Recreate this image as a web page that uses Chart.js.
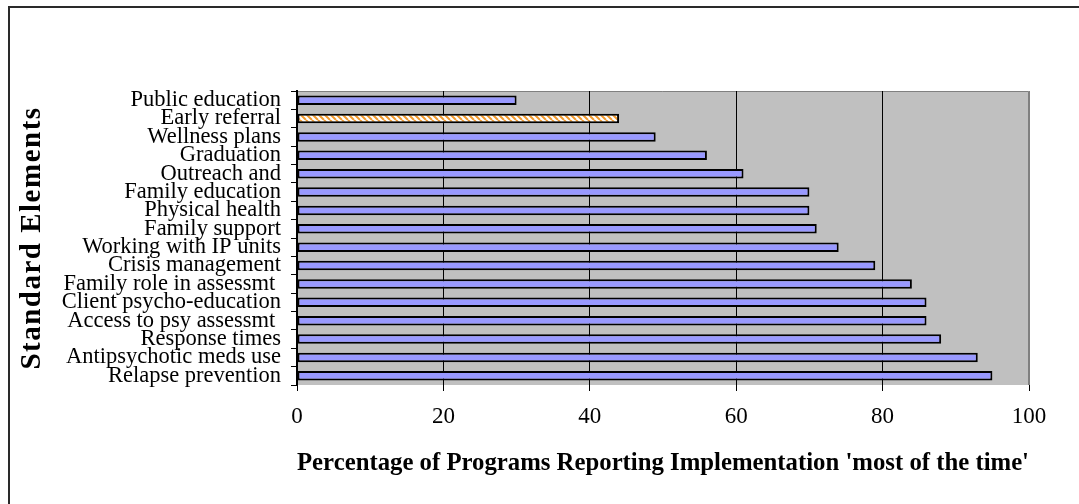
<!DOCTYPE html>
<html>
<head>
<meta charset="utf-8">
<script src="https://cdn.jsdelivr.net/npm/chart.js@4.4.1/dist/chart.umd.min.js"></script>
<style>
  html, body { margin: 0; padding: 0; background: #ffffff; }
  #wrap { position: relative; width: 1079px; height: 504px; }
</style>
</head>
<body>
<div id="wrap"><canvas id="chart" width="1079" height="504"></canvas></div>
<script>
// Standard elements, listed top to bottom
const elements = [
  'Public education',
  'Early referral',
  'Wellness plans',
  'Graduation',
  'Outreach and',
  'Family education',
  'Physical health',
  'Family support',
  'Working with IP units',
  'Crisis management',
  'Family role in assessmt ',
  'Client psycho-education',
  'Access to psy assessmt ',
  'Response times',
  'Antipsychotic meds use',
  'Relapse prevention'
];

// Percentage of programs reporting implementation 'most of the time'
const percentMostOfTime = [30, 44, 49, 56, 61, 70, 70, 71, 74, 79, 84, 86, 86, 88, 93, 95];

// Value axis tick labels
const valueTicks = [0, 20, 40, 60, 80, 100];

// The element drawn with a hatched fill
const highlighted = 'Early referral';

const serif = "'Liberation Serif', 'Times New Roman', serif";

// Orange / white diagonal hatch
function makeHatch() {
  const c = document.createElement('canvas');
  c.width = 6; c.height = 6;
  const g = c.getContext('2d');
  g.fillStyle = '#ffffff';
  g.fillRect(0, 0, 6, 6);
  g.strokeStyle = '#f29a2e';
  g.lineWidth = 2;
  g.beginPath();
  for (let k = -6; k <= 12; k += 6) {
    g.moveTo(k, 0);
    g.lineTo(k + 6, 6);
  }
  g.stroke();
  return g.createPattern(c, 'repeat');
}
const hatch = makeHatch();

// Grey plot background, the outer frame, and a slightly spaced vertical axis title
const backdrop = {
  id: 'backdrop',
  beforeDraw(chart) {
    const yScale = chart.scales.y;
    if (yScale && !yScale._spacedTitle) {
      const drawTitle = yScale.drawTitle;
      yScale.drawTitle = function () {
        const c = this.ctx;
        c.save();
        c.letterSpacing = '1.5px';
        drawTitle.call(this);
        c.restore();
      };
      yScale._spacedTitle = true;
    }
    const { ctx, chartArea: a } = chart;
    ctx.save();
    ctx.fillStyle = '#c0c0c0';
    ctx.fillRect(a.left, a.top, a.right - a.left, a.bottom - a.top);
    ctx.strokeStyle = '#808080';
    ctx.lineWidth = 1;
    ctx.beginPath();
    ctx.moveTo(a.left, a.top + 0.5);
    ctx.lineTo(a.right - 0.5, a.top + 0.5);
    ctx.lineTo(a.right - 0.5, a.bottom);
    ctx.stroke();
    ctx.strokeStyle = '#2a2a2a';
    ctx.lineWidth = 2;
    ctx.beginPath();
    ctx.moveTo(9, chart.height + 2);
    ctx.lineTo(9, 7);
    ctx.lineTo(chart.width + 2, 7);
    ctx.stroke();
    ctx.restore();
  }
};

new Chart(document.getElementById('chart'), {
  type: 'bar',
  data: {
    labels: elements,
    datasets: [{
      data: percentMostOfTime,
      backgroundColor: (c) => elements[c.dataIndex] === highlighted ? hatch : '#9999ff',
      borderColor: '#000000',
      borderWidth: 2,
      borderSkipped: false,
      categoryPercentage: 1,
      barPercentage: 0.52
    }]
  },
  options: {
    indexAxis: 'y',
    responsive: false,
    animation: false,
    devicePixelRatio: 1,
    layout: { padding: { top: 91, right: 50, bottom: 0, left: 0 } },
    plugins: {
      legend: { display: false },
      tooltip: { enabled: false }
    },
    scales: {
      x: {
        type: 'linear',
        min: 0,
        max: 100,
        afterBuildTicks: (s) => { s.ticks = valueTicks.map(v => ({ value: v })); },
        afterFit: (s) => { s.height = 119; },
        border: { display: false },
        grid: {
          color: (c) => c.tick && c.tick.value === 100 ? '#808080' : '#000000',
          tickColor: '#000000',
          tickLength: 6,
          lineWidth: 1
        },
        ticks: {
          color: '#000000',
          padding: 12,
          font: { family: serif, size: 23 },
          maxRotation: 0
        },
        title: {
          display: true,
          text: "Percentage of Programs Reporting Implementation 'most of the time'",
          color: '#000000',
          font: { family: serif, size: 25.6, weight: 'bold' },
          padding: { top: 0, bottom: 25 }
        }
      },
      y: {
        afterFit: (s) => { s.width = 297; },
        border: { display: true, color: '#000000', width: 2 },
        grid: {
          offset: true,
          drawOnChartArea: false,
          tickColor: '#000000',
          tickLength: 6,
          lineWidth: 1
        },
        ticks: {
          autoSkip: false,
          color: '#000000',
          padding: 10,
          font: { family: serif, size: 22.5 }
        },
        title: {
          display: true,
          text: 'Standard Elements',
          color: '#000000',
          font: { family: serif, size: 29, weight: 'bold' },
          padding: { top: 15, bottom: 0 }
        }
      }
    }
  },
  plugins: [backdrop]
});
</script>
</body>
</html>
